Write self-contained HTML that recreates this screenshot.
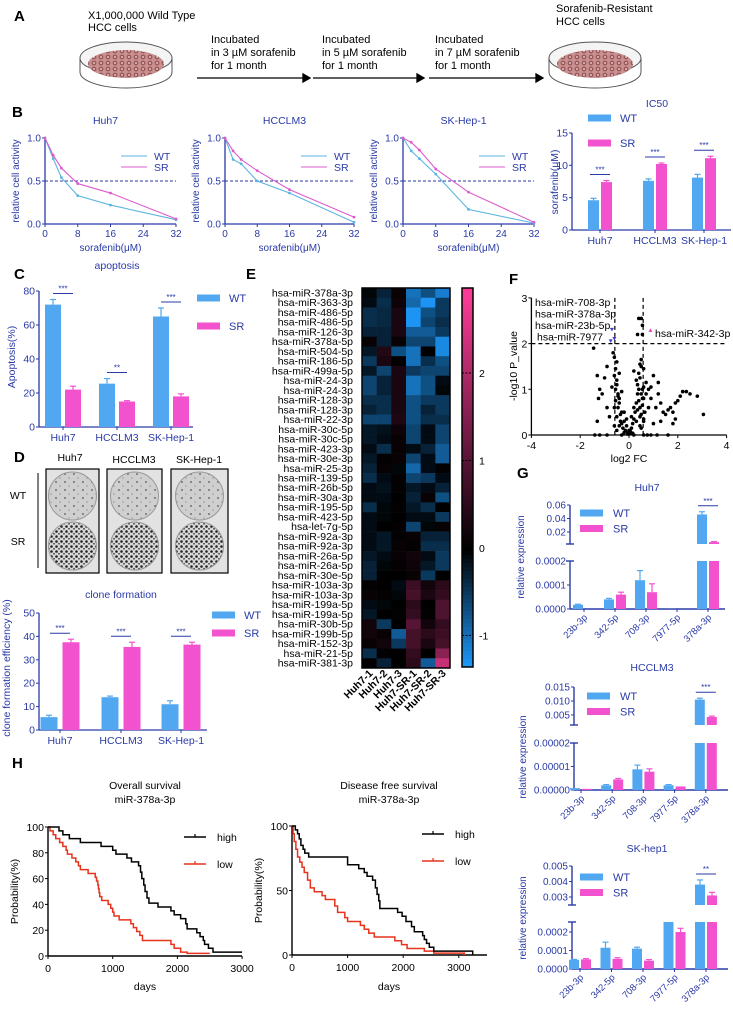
<!DOCTYPE html>
<html><head><meta charset="utf-8"><title>Sorafenib resistance figure</title>
<style>
html,body{margin:0;padding:0;background:#fff;}
svg{display:block;font-family:"Liberation Sans",Arial,sans-serif;}
</style></head>
<body>
<svg id="fig" width="733" height="1013" viewBox="0 0 733 1013" xmlns="http://www.w3.org/2000/svg">
<defs>
<pattern id="cellsPat" width="7" height="6" patternUnits="userSpaceOnUse">
<rect width="7" height="6" fill="#c89090"/><circle cx="3" cy="3" r="2.4" fill="#9a5858"/><circle cx="3" cy="3" r="1" fill="#e4c0c0"/>
</pattern>
<pattern id="wtPat" width="9" height="8" patternUnits="userSpaceOnUse">
<rect width="9" height="8" fill="#cfcfcf"/><circle cx="2" cy="2" r="0.9" fill="#555"/><circle cx="6" cy="6" r="0.6" fill="#777"/>
</pattern>
<pattern id="srPat" width="5" height="5" patternUnits="userSpaceOnUse">
<rect width="5" height="5" fill="#d8d8d8"/><circle cx="1.5" cy="1.5" r="1.3" fill="#222"/><circle cx="4" cy="3.8" r="0.9" fill="#444"/>
</pattern>
</defs>
<!-- Panel A -->
<g>
<text x="14" y="21" font-size="15" font-weight="bold">A</text>
<text x="88" y="19" font-size="11">X1,000,000 Wild Type</text>
<text x="88" y="31" font-size="11">HCC cells</text>
<g>
<path d="M80 58 L80 72 A46 16 0 0 0 172 72 L172 58" fill="#fff" stroke="#555" stroke-width="1"/>
<ellipse cx="126" cy="58" rx="46" ry="16" fill="#f4f4f4" stroke="#555"/>
<ellipse cx="126" cy="64" rx="38" ry="14" fill="url(#cellsPat)"/>
</g>
<g>
<path d="M549 58 L549 72 A46 16 0 0 0 641 72 L641 58" fill="#fff" stroke="#555" stroke-width="1"/>
<ellipse cx="595" cy="58" rx="46" ry="16" fill="#f4f4f4" stroke="#555"/>
<ellipse cx="595" cy="64" rx="38" ry="14" fill="url(#cellsPat)"/>
</g>
<text x="556" y="12" font-size="11">Sorafenib-Resistant</text>
<text x="556" y="25" font-size="11">HCC cells</text>
<g font-size="11">
<text x="211" y="43">Incubated</text><text x="211" y="56">in 3 µM sorafenib</text><text x="211" y="69">for 1 month</text>
<text x="322" y="43">Incubated</text><text x="322" y="56">in 5 µM sorafenib</text><text x="322" y="69">for 1 month</text>
<text x="435" y="43">Incubated</text><text x="435" y="56">in 7 µM sorafenib</text><text x="435" y="69">for 1 month</text>
</g>
<g stroke="#000" stroke-width="1.3">
<line x1="197" y1="78" x2="303" y2="78"/><polygon points="303,74 310,78 303,82" fill="#000"/>
<line x1="313" y1="78" x2="417" y2="78"/><polygon points="417,74 424,78 417,82" fill="#000"/>
<line x1="429" y1="78" x2="536" y2="78"/><polygon points="536,74 543,78 536,82" fill="#000"/>
</g>
</g>
<text x="12" y="117" font-size="15" font-weight="bold">B</text>
<text x="14" y="279" font-size="15" font-weight="bold">C</text>
<text x="14" y="462" font-size="15" font-weight="bold">D</text>
<text x="246" y="279" font-size="15" font-weight="bold">E</text>
<text x="509" y="284" font-size="15" font-weight="bold">F</text>
<text x="517" y="478" font-size="15" font-weight="bold">G</text>
<text x="12" y="768" font-size="15" font-weight="bold">H</text>
<!-- Panel D plates -->
<g>
<text x="70" y="461" font-size="10.5" text-anchor="middle">Huh7</text>
<text x="134" y="463" font-size="10.5" text-anchor="middle">HCCLM3</text>
<text x="199" y="463" font-size="10.5" text-anchor="middle">SK-Hep-1</text>
<text x="18" y="499" font-size="10.5" text-anchor="middle">WT</text>
<text x="18" y="545" font-size="10.5" text-anchor="middle">SR</text>
<line x1="38" y1="473" x2="38" y2="568" stroke="#000" stroke-width="1"/>
<g><rect x="46" y="469" width="53" height="104" fill="#e2e2e2" stroke="#000" stroke-width="1.2"/><circle cx="72.5" cy="496" r="24" fill="url(#wtPat)" stroke="#999"/><circle cx="72.5" cy="546" r="24" fill="url(#srPat)" stroke="#999"/></g>
<g><rect x="107" y="469" width="55" height="104" fill="#e2e2e2" stroke="#000" stroke-width="1.2"/><circle cx="134.5" cy="496" r="24" fill="url(#wtPat)" stroke="#999"/><circle cx="134.5" cy="546" r="24" fill="url(#srPat)" stroke="#999"/></g>
<g><rect x="171" y="469" width="57" height="104" fill="#e2e2e2" stroke="#000" stroke-width="1.2"/><circle cx="199.5" cy="496" r="24" fill="url(#wtPat)" stroke="#999"/><circle cx="199.5" cy="546" r="24" fill="url(#srPat)" stroke="#999"/></g>
</g>
</svg>
<script>
// ---------- DATA ----------
const doseX = [0, 2, 4, 8, 16, 32];
const huh7WT = [1.0, 0.76, 0.54, 0.33, 0.22, 0.05];
const huh7SR = [1.0, 0.80, 0.65, 0.47, 0.36, 0.06];
const lm3WT = [1.0, 0.75, 0.70, 0.50, 0.36, 0.02];
const lm3SR = [1.0, 0.85, 0.75, 0.62, 0.40, 0.08];
const skWT = [1.0, 0.85, 0.76, 0.58, 0.17, 0.01];
const skSR = [1.0, 0.95, 0.86, 0.64, 0.37, 0.02];
const doseTicks = [0, 8, 16, 24, 32];
const activityTicks = [0.0, 0.5, 1.0];

const cellLines = ['Huh7', 'HCCLM3', 'SK-Hep-1'];
const ic50WT = [4.6, 7.6, 8.1];
const ic50SR = [7.4, 10.2, 11.1];
const ic50ErrWT = [0.3, 0.3, 0.5];
const ic50ErrSR = [0.25, 0.15, 0.3];
const ic50Ticks = [0, 5, 10, 15];

const apopWT = [72, 25.5, 65];
const apopSR = [22, 15, 18];
const apopErrWT = [3, 3, 5];
const apopErrSR = [2, 0.5, 1.5];
const apopSig = ['***', '**', '***'];
const apopTicks = [0, 20, 40, 60, 80];

const cloneWT = [5.5, 14, 11];
const cloneSR = [37.5, 35.5, 36.5];
const cloneErrWT = [0.8, 0.5, 1.5];
const cloneErrSR = [1.3, 2, 1];
const cloneTicks = [0, 10, 20, 30, 40, 50];

const mirnaRows = ['hsa-miR-378a-3p','hsa-miR-363-3p','hsa-miR-486-5p','hsa-miR-486-5p','hsa-miR-126-3p','hsa-miR-378a-5p','hsa-miR-504-5p','hsa-miR-186-5p','hsa-miR-499a-5p','hsa-miR-24-3p','hsa-miR-24-3p','hsa-miR-128-3p','hsa-miR-128-3p','hsa-miR-22-3p','hsa-miR-30c-5p','hsa-miR-30c-5p','hsa-miR-423-3p','hsa-miR-30e-3p','hsa-miR-25-3p','hsa-miR-139-5p','hsa-miR-26b-5p','hsa-miR-30a-3p','hsa-miR-195-5p','hsa-miR-423-5p','hsa-let-7g-5p','hsa-miR-92a-3p','hsa-miR-92a-3p','hsa-miR-26a-5p','hsa-miR-26a-5p','hsa-miR-30e-5p','hsa-miR-103a-3p','hsa-miR-103a-3p','hsa-miR-199a-5p','hsa-miR-199a-5p','hsa-miR-30b-5p','hsa-miR-199b-5p','hsa-miR-152-3p','hsa-miR-21-5p','hsa-miR-381-3p'];
const sampleCols = ['Huh7-1','Huh7-2','Huh7-3','Huh7-SR-1','Huh7-SR-2','Huh7-SR-3'];
const heatValues = [
[-0.05,-0.3,0.1,-1.0,-0.7,-1.1],
[-0.1,-0.4,0.15,-0.9,-1.3,-0.5],
[-0.4,-0.35,0.3,-1.3,-0.7,-0.5],
[-0.4,-0.35,0.3,-1.3,-0.6,-0.4],
[-0.3,-0.3,0.3,-0.8,-0.8,-0.5],
[0.1,-0.3,0.1,-0.6,-0.6,-1.2],
[-0.2,0.4,-0.7,-1.0,0.0,-1.2],
[-0.5,0.3,0.05,-1.0,-0.4,-0.7],
[-0.2,-0.6,0.3,-0.5,-0.6,-0.6],
[-0.6,-0.3,0.3,-1.0,-0.7,-0.1],
[-0.6,-0.3,0.3,-1.0,-0.7,-0.05],
[-0.4,-0.4,0.3,-0.7,-0.5,-0.5],
[-0.3,-0.4,0.3,-0.7,-0.3,-0.5],
[-0.6,-0.6,0.35,-0.7,-0.4,-0.4],
[-0.2,-0.15,0.15,-0.6,-0.1,-0.6],
[-0.2,-0.1,0.1,-0.6,-0.1,-0.6],
[-0.1,-0.4,0.1,-0.1,-0.3,-0.8],
[-0.2,0.05,0.1,-0.6,-0.1,-0.8],
[-0.3,0.1,-0.05,-0.9,-0.1,0.05],
[-0.4,-0.1,0.05,-0.6,-0.5,-0.1],
[-0.1,-0.15,0.05,-0.2,-0.1,-0.3],
[-0.1,-0.1,0.0,-0.3,0.1,-0.7],
[-0.4,-0.05,0.05,-0.2,-0.4,0.0],
[-0.1,-0.05,0.0,-0.1,-0.1,-0.5],
[-0.1,0.0,0.05,-0.6,-0.05,0.1],
[-0.1,-0.2,0.05,0.1,-0.3,-0.3],
[-0.1,-0.2,0.1,0.05,-0.4,-0.4],
[-0.2,-0.1,0.1,0.2,-0.1,-0.5],
[-0.3,-0.05,0.05,0.15,-0.2,-0.5],
[-0.3,0.0,0.0,0.1,-0.5,0.0],
[0.05,0.0,-0.1,0.7,0.2,0.5],
[0.1,0.05,-0.05,0.8,0.3,0.6],
[-0.1,-0.05,0.0,0.5,0.0,0.9],
[-0.2,0.0,0.05,0.6,0.05,0.9],
[0.2,-0.5,0.0,1.0,0.2,0.6],
[0.2,0.1,-0.8,0.8,0.5,0.7],
[0.1,0.2,-0.5,0.8,0.3,0.8],
[-0.4,0.05,0.0,0.6,0.0,1.6],
[0.05,-0.3,0.0,0.5,-0.8,2.3]];
const colorbarTicks = [2, 1, 0, -1];

const volcX = [-0.6,-0.5,-0.45,-0.4,-0.35,-0.3,-0.25,-0.2,-0.15,-0.1,-0.05,0,0.05,0.1,0.15,0.2,0.25,0.3,0.35,0.4,0.45,0.5,0.55,0.6,
 -0.55,-0.5,-0.45,-0.4,-0.35,-0.3,-0.2,-0.1,0.1,0.2,0.3,0.35,0.4,0.45,0.5,0.55,0.6,0.65,
 -0.6,-0.55,-0.5,-0.45,-0.4,-0.3,0.3,0.4,0.45,0.5,0.55,0.6,0.7,
 -0.6,-0.55,-0.5,-0.4,0.35,0.45,0.5,0.6,0.7,0.8,
 -1.3,-1.25,-1.2,-1.1,-1.0,-0.9,-0.8,-0.7,-1.3,-0.9,
 0.8,0.9,1.0,1.1,1.2,1.3,1.4,1.5,1.6,1.7,1.8,1.9,2.0,2.1,2.2,2.35,2.5,2.8,3.05,1.0,1.3,1.8,1.9,
 -0.5,-0.6,0.5,0.45,-0.65,0.6,0.9,1.2,0.2,-1.45,0.4,0.5,0.55,0.35,0.55,
 -1.4,-1.2,-0.9,-0.3,0.2,0.6,0.75,0.9,1.15,1.6,-0.05,0.05,-0.2,0.15];
const volcY = [0.2,0.4,0.6,0.8,0.3,0.5,0.15,0.3,0.1,0.2,0.05,0.1,0.08,0.15,0.25,0.35,0.5,0.7,0.9,1.0,0.6,0.45,0.8,0.3,
 1.0,1.2,0.9,0.7,0.45,0.25,0.5,0.35,0.4,0.6,0.3,1.1,0.75,1.25,0.9,0.65,1.05,0.5,
 1.3,1.45,1.1,0.85,1.35,0.95,1.2,1.35,0.2,0.15,1.0,0.8,1.15,
 0.6,0.75,0.1,0.2,0.55,0.4,1.5,0.35,0.9,0.6,
 1.3,0.8,1.0,0.9,1.25,0.6,0.4,1.05,0.3,1.5,
 1.0,0.8,1.3,0.6,0.9,0.7,0.5,0.45,0.55,0.6,0.5,0.7,0.75,0.85,0.95,0.95,0.9,0.85,0.45,0.25,0.3,0.25,0.35,
 1.6,1.7,1.65,1.55,1.8,1.45,1.05,1.15,1.4,1.9,2.55,2.55,2.4,2.2,2.2,
 0,0,0,0,0,0,0,0,0,0,0.02,0.03,0.05,0.04];
const volcTicksX = [-4, -2, 0, 2, 4];
const volcTicksY = [0, 1, 2, 3];
const volcLabels = ['hsa-miR-708-3p','hsa-miR-378a-3p','hsa-miR-23b-5p','hsa-miR-7977'];

const geneCats = ['23b-3p', '342-5p', '708-3p', '7977-5p', '378a-3p'];
const huh7ExprWT = [0.000018, 0.00004, 0.00012, 0.0000005, 0.046];
const huh7ExprSR = [0.0, 0.00006, 0.00007, 0.0, 0.005];
const huh7ErrWT = [0.000002, 0.000004, 0.00004, 0, 0.004];
const huh7ErrSR = [0, 0.00001, 0.000035, 0, 0.0008];
const lm3ExprWT = [0.0000008, 0.000002, 0.0000088, 0.000002, 0.0105];
const lm3ExprSR = [0.0000005, 0.0000045, 0.0000078, 0.0000015, 0.0043];
const lm3ErrWT = [0, 0.0000003, 0.0000018, 0.0000003, 0.0005];
const lm3ErrSR = [0, 0.0000004, 0.0000012, 0, 0.0003];
const skExprWT = [0.00005, 0.000115, 0.00011, 0.0009, 0.0038];
const skExprSR = [0.000052, 0.000055, 0.000045, 0.0002, 0.0031];
const skErrWT = [0.000002, 0.00003, 0.000008, 0, 0.0003];
const skErrSR = [0.000004, 0.000006, 0.000006, 0.00002, 0.0002];

const osHighDays = [0,170,230,330,500,820,1000,1050,1220,1290,1400,1430,1450,1480,1500,1530,1560,1700,1900,1950,2050,2130,2150,2300,2350,2400,2420,2480,2550];
const osHighPct = [100,97,94,91,88,85,82,79,76,73,70,65,60,55,50,45,41,38,35,32,29,25,21,18,15,12,9,6,3];
const osLowDays = [0,30,80,120,180,230,280,300,370,430,470,500,620,730,750,770,780,790,800,830,930,970,1000,1020,1100,1280,1320,1370,1420,1460,1900,1950,2050,2150];
const osLowPct = [100,97,94,91,88,85,82,79,76,73,70,67,64,61,58,55,52,49,46,43,40,37,34,31,28,25,22,19,16,12,9,6,3,2];
const dfsHighDays = [0,60,100,130,160,200,230,300,1000,1200,1300,1350,1450,1500,1530,1560,1580,1900,1980,2050,2150,2200,2350,2380,2420,2470,2550,3250];
const dfsHighPct = [100,97,94,90,85,82,79,76,70,67,64,61,58,52,47,42,36,33,30,26,22,18,15,12,9,6,3,0];
const dfsLowDays = [0,20,40,70,100,140,180,220,280,330,400,540,600,770,820,950,1000,1230,1300,1380,1480,1850,1970,2070,2380,2550,3100];
const dfsLowPct = [100,94,88,82,76,72,68,64,58,52,49,46,43,38,33,29,26,23,20,17,14,11,8,5,3,1.5,0];
const survTicksOS = [0, 1000, 2000, 3000];
const survTicksDFS = [0, 1000, 2000, 3000];

// ---------- DRAW HELPERS ----------
const NS = 'http://www.w3.org/2000/svg';
const svg = document.getElementById('fig');
const BLUE = '#2a3aa6', WTC = '#51a8f0', SRC = '#f352cf';
function mk(tag, attrs, name, parent) {
  const el = document.createElementNS(NS, tag);
  for (const k in attrs) el.setAttribute(k, attrs[k]);
  
  
  (parent || svg).appendChild(el);
  return el;
}
function T(x, y, s, size, fill, anchor, name, extra, parent) {
  const a = Object.assign({x: x, y: y, 'font-size': size, fill: fill, 'text-anchor': anchor || 'start'}, extra || {});
  const t = mk('text', a, name, parent);
  t.textContent = s;
  return t;
}
function L(x1, y1, x2, y2, stroke, w, name, extra, parent) {
  return mk('line', Object.assign({x1: x1, y1: y1, x2: x2, y2: y2, stroke: stroke, 'stroke-width': w}, extra || {}), name, parent);
}
function R(x, y, w, h, fill, name, parent) {
  return mk('rect', {x: x, y: y, width: Math.max(0, w), height: Math.max(0, h), fill: fill}, name, parent);
}

// ---------- B: dose response ----------
function doseChart(ax, xEnd, title, wt, sr, key) {
  const g = mk('g', {}, 'dose-chart-' + key);
  const y0 = 224, y1 = 138;
  const sx = d => ax + d / 32 * (xEnd - ax);
  const sy = v => y0 - v * (y0 - y1);
  T((ax + xEnd) / 2 - 5, 124, title, 10.5, BLUE, 'middle', 'dose-title-' + key, {}, g);
  L(ax, y1, ax, y0, BLUE, 1.3, 'dose-y-axis', {}, g);
  L(ax, y0, xEnd, y0, BLUE, 1.3, 'dose-x-axis', {}, g);
  activityTicks.forEach(v => {
    L(ax - 3, sy(v), ax, sy(v), BLUE, 1, 'dose-y-tick', {}, g);
    T(ax - 4, sy(v) + 3.5, v.toFixed(1), 10, BLUE, 'end', 'dose-y-tick-label', {}, g);
  });
  doseTicks.forEach(v => {
    L(sx(v), y0, sx(v), y0 + 3, BLUE, 1, 'dose-x-tick', {}, g);
    T(sx(v), y0 + 13, String(v), 10, BLUE, 'middle', 'dose-x-tick-label', {}, g);
  });
  T((ax + xEnd) / 2, 251, 'sorafenib(μM)', 10, BLUE, 'middle', 'dose-x-title', {}, g);
  T(0, 0, 'relative cell activity', 10, BLUE, 'middle', 'dose-y-title', {transform: 'translate(' + (ax - 26) + ',' + ((y0 + y1) / 2) + ') rotate(-90)'}, g);
  L(ax, sy(0.5), xEnd, sy(0.5), '#2a3aa6', 1, 'half-activity-line', {'stroke-dasharray': '3,2'}, g);
  [[wt, '#5cb6e0', 'wt'], [sr, '#dc5ccc', 'sr']].forEach(s => {
    mk('polyline', {points: doseX.map((d, i) => sx(d) + ',' + sy(s[0][i])).join(' '), fill: 'none', stroke: s[1], 'stroke-width': 1.1}, 'dose-line-' + s[2], g);
    doseX.forEach((d, i) => {
      mk('circle', {cx: sx(d), cy: sy(s[0][i]), r: 1.4, fill: s[1]}, 'dose-point-' + s[2], g);
    });
  });
  L(ax + 76, 156, ax + 102, 156, '#5cb6e0', 1.1, 'dose-legend-wt-line', {}, g);
  T(ax + 109, 160, 'WT', 10.5, BLUE, 'start', 'dose-legend-wt', {}, g);
  L(ax + 76, 167, ax + 102, 167, '#dc5ccc', 1.1, 'dose-legend-sr-line', {}, g);
  T(ax + 109, 171, 'SR', 10.5, BLUE, 'start', 'dose-legend-sr', {}, g);
}
doseChart(45, 176, 'Huh7', huh7WT, huh7SR, 'huh7');
doseChart(225, 354, 'HCCLM3', lm3WT, lm3SR, 'hcclm3');
doseChart(403, 534, 'SK-Hep-1', skWT, skSR, 'skhep1');

// ---------- generic grouped bars ----------
function groupBars(cfg) {
  const g = mk('g', {}, cfg.name);
  const sy = v => cfg.y0 - v * cfg.k;
  L(cfg.ax, sy(cfg.ticks[cfg.ticks.length - 1]), cfg.ax, cfg.y0, BLUE, 1.3, 'bar-y-axis', {}, g);
  L(cfg.ax, cfg.y0, cfg.xEnd, cfg.y0, BLUE, 1.3, 'bar-x-axis', {}, g);
  cfg.ticks.forEach(v => {
    L(cfg.ax - 3, sy(v), cfg.ax, sy(v), BLUE, 1, 'bar-y-tick', {}, g);
    T(cfg.ax - 4, sy(v) + 3.5, String(v), 10.5, BLUE, 'end', 'bar-y-tick-label', {}, g);
  });
  cellLines.forEach((c, i) => {
    const cx = cfg.centers[i];
    L(cx, cfg.y0, cx, cfg.y0 + 3, BLUE, 1, 'bar-x-tick', {}, g);
    T(cx, cfg.y0 + 14, c, 10.5, BLUE, 'middle', 'bar-x-label', {}, g);
    [[cfg.wt, cfg.ewt, WTC, -1, 'wt'], [cfg.sr, cfg.esr, SRC, 1, 'sr']].forEach(s => {
      const x = s[3] < 0 ? cx - cfg.gap / 2 - cfg.bw : cx + cfg.gap / 2;
      const v = s[0][i];
      R(x, sy(v), cfg.bw, cfg.y0 - sy(v), s[2], 'bar-' + s[4] + '-' + i, g);
      L(x + cfg.bw / 2, sy(v), x + cfg.bw / 2, sy(v + s[1][i]), s[2], 1.2, 'error-bar', {}, g);
      L(x + cfg.bw / 2 - 3, sy(v + s[1][i]), x + cfg.bw / 2 + 3, sy(v + s[1][i]), s[2], 1.2, 'error-cap', {}, g);
    });
    if (cfg.sig) {
      const top = Math.max(cfg.wt[i] + cfg.ewt[i], cfg.sr[i] + cfg.esr[i]);
      const yy = sy(top) - 6;
      L(cx - 10, yy, cx + 10, yy, BLUE, 1, 'significance-line', {}, g);
      T(cx, yy - 2, cfg.sig[i], 8, BLUE, 'middle', 'significance-stars', {}, g);
    }
  });
  R(cfg.lx, cfg.ly1 - 3.5, 23, 7, WTC, 'legend-wt-swatch', g);
  T(cfg.lx + 32, cfg.ly1 + 4, 'WT', 11, BLUE, 'start', 'legend-wt', {}, g);
  R(cfg.lx, cfg.ly2 - 3.5, 23, 7, SRC, 'legend-sr-swatch', g);
  T(cfg.lx + 32, cfg.ly2 + 4, 'SR', 11, BLUE, 'start', 'legend-sr', {}, g);
  T(cfg.titleX, cfg.titleY, cfg.title, 10.5, BLUE, 'middle', 'bar-title', {}, g);
  T(0, 0, cfg.ytitle, 10.5, BLUE, 'middle', 'bar-y-title', {transform: 'translate(' + cfg.ytx + ',' + cfg.yty + ') rotate(-90)'}, g);
}
groupBars({name: 'ic50-chart', ax: 572, y0: 230, k: 6.47, xEnd: 731, ticks: ic50Ticks, centers: [600, 655, 704], bw: 11, gap: 2,
  wt: ic50WT, sr: ic50SR, ewt: ic50ErrWT, esr: ic50ErrSR, sig: ['***', '***', '***'], lx: 588, ly1: 118, ly2: 143,
  title: 'IC50', titleX: 657, titleY: 107, ytitle: 'sorafenib(μM)', ytx: 558, yty: 182});
groupBars({name: 'apoptosis-chart', ax: 39, y0: 427, k: 1.7, xEnd: 193, ticks: apopTicks, centers: [63, 117, 171], bw: 16, gap: 4,
  wt: apopWT, sr: apopSR, ewt: apopErrWT, esr: apopErrSR, sig: apopSig, lx: 197, ly1: 298, ly2: 326,
  title: 'apoptosis', titleX: 117, titleY: 269, ytitle: 'Apoptosis(%)', ytx: 15, yty: 357});
groupBars({name: 'clone-chart', ax: 39, y0: 730, k: 2.34, xEnd: 207, ticks: cloneTicks, centers: [60, 121, 181], bw: 17, gap: 5,
  wt: cloneWT, sr: cloneSR, ewt: cloneErrWT, esr: cloneErrSR, sig: ['***', '***', '***'], lx: 212, ly1: 615, ly2: 633,
  title: 'clone formation', titleX: 121, titleY: 598, ytitle: 'clone formation efficiency (%)', ytx: 10, yty: 668});

// ---------- E: heatmap ----------
(function () {
  const g = mk('g', {}, 'heatmap');
  const hx = 362, hy = 288, cw = 88 / 6, ch = 380 / 39;
  function col(v) {
    if (v < 0) { const t = Math.min(1, -v / 1.36); return 'rgb(' + Math.round(30 * t) + ',' + Math.round(155 * t) + ',' + Math.round(255 * t) + ')'; }
    const t = Math.min(1, v / 2.9); return 'rgb(' + Math.round(250 * t) + ',' + Math.round(60 * t) + ',' + Math.round(150 * t) + ')';
  }
  heatValues.forEach((row, r) => {
    T(353, hy + r * ch + ch / 2 + 3.5, mirnaRows[r], 10.5, '#000', 'end', 'heatmap-row-label', {}, g);
    row.forEach((v, c) => {
      mk('rect', {x: hx + c * cw, y: hy + r * ch, width: cw + 0.3, height: ch + 0.3, fill: col(v)}, 'heatmap-cell', g);
    });
  });
  mk('rect', {x: hx, y: hy, width: 88, height: 380, fill: 'none', stroke: '#000', 'stroke-width': 1.5}, 'heatmap-border', g);
  sampleCols.forEach((s, c) => {
    T(0, 0, s, 10.5, '#000', 'end', 'heatmap-col-label', {'font-weight': 'bold', transform: 'translate(' + (hx + c * cw + cw / 2 + 4) + ',' + (hy + 386) + ') rotate(-45)'}, g);
  });
  const cbx = 462, cbTop = 288, cbBot = 667;
  const cby = v => 548 - v * 87.5;
  for (let i = 0; i < 95; i++) {
    const y = cbTop + i * (cbBot - cbTop) / 95;
    const v = (548 - y) / 87.5;
    mk('rect', {x: cbx, y: y, width: 11, height: (cbBot - cbTop) / 95 + 0.5, fill: col(v)}, 'colorbar-step', g);
  }
  mk('rect', {x: cbx, y: cbTop, width: 11, height: cbBot - cbTop, fill: 'none', stroke: '#000', 'stroke-width': 1.5}, 'colorbar-border', g);
  colorbarTicks.forEach(v => {
    L(cbx, cby(v), cbx + 11, cby(v), '#000', 1, 'colorbar-tick', {'stroke-dasharray': '2,1.5'}, g);
    T(cbx + 17, cby(v) + 4, String(v), 10.5, '#000', 'start', 'colorbar-label', {}, g);
  });
})();

// ---------- F: volcano ----------
(function () {
  const g = mk('g', {}, 'volcano-plot');
  const sx = v => 629 + v * 24.4, sy = v => 435 - v * 45.7;
  L(sx(-4), sy(0), sx(-4), sy(3), '#000', 1.3, 'volcano-y-axis', {}, g);
  L(sx(-4), sy(0), sx(4), sy(0), '#000', 1.3, 'volcano-x-axis', {}, g);
  volcTicksX.forEach(v => {
    L(sx(v), sy(0), sx(v), sy(0) + 3, '#000', 1, 'volcano-x-tick', {}, g);
    T(sx(v), sy(0) + 14, String(v), 10.5, '#000', 'middle', 'volcano-x-tick-label', {}, g);
  });
  volcTicksY.forEach(v => {
    L(sx(-4) - 3, sy(v), sx(-4), sy(v), '#000', 1, 'volcano-y-tick', {}, g);
    T(sx(-4) - 4, sy(v) + 4, String(v), 10.5, '#000', 'end', 'volcano-y-tick-label', {}, g);
  });
  T(629, 462, 'log2 FC', 10.5, '#000', 'middle', 'volcano-x-title', {}, g);
  T(0, 0, '-log10 P_value', 10.5, '#000', 'middle', 'volcano-y-title', {transform: 'translate(517,366) rotate(-90)'}, g);
  volcX.forEach((x, i) => {
    mk('circle', {cx: sx(x), cy: sy(volcY[i]), r: 1.8, fill: '#000'}, 'volcano-point', g);
  });
  L(sx(-0.58), sy(3), sx(-0.58), sy(0), '#000', 1.2, 'fc-threshold-left', {'stroke-dasharray': '4,3'}, g);
  L(sx(0.58), sy(3), sx(0.58), sy(0), '#000', 1.2, 'fc-threshold-right', {'stroke-dasharray': '4,3'}, g);
  L(sx(-4), sy(2), sx(4), sy(2), '#000', 1.2, 'p-threshold', {'stroke-dasharray': '4,3'}, g);
  volcLabels.forEach((s, i) => {
    T(535 + (i === 3 ? 2 : 0), 306 + i * 11.5, s, 10.5, '#000', 'start', 'volcano-label', {}, g);
  });
  [[-0.7, 2.3], [-0.75, 2.05], [-0.6, 2.1]].forEach(p => {
    mk('path', {d: 'M' + (sx(p[0]) - 2) + ' ' + (sy(p[1]) - 2) + ' l4 0 l-2 3.5 z', fill: '#3a3ad0'}, 'volcano-down-marker', g);
  });
  mk('path', {d: 'M' + (sx(0.88) - 2) + ' ' + (sy(2.3) + 2) + ' l4 0 l-2 -3.5 z', fill: '#e040c0'}, 'volcano-up-marker', g);
  T(655, 337, 'hsa-miR-342-3p', 10.5, '#000', 'start', 'volcano-label-342', {}, g);
})();

// ---------- G: broken-axis bars ----------
function brokenChart(cfg) {
  const g = mk('g', {}, cfg.name);
  const sxC = i => cfg.c0 + i * cfg.dc;
  const yt = v => cfg.tBase - v * cfg.tk;
  const yb = v => cfg.bBase - v * cfg.bk;
  T(cfg.titleX, cfg.titleY, cfg.title, 10.5, BLUE, 'middle', 'expr-title', {}, g);
  L(cfg.ax, cfg.tTop, cfg.ax, cfg.tBot, BLUE, 1.4, 'expr-top-axis', {}, g);
  L(cfg.ax - 4, cfg.tBot, cfg.ax + 4, cfg.tBot, BLUE, 1.4, 'expr-top-break', {}, g);
  L(cfg.ax, cfg.bTop, cfg.ax, cfg.bBase, BLUE, 1.4, 'expr-bottom-axis', {}, g);
  L(cfg.ax - 4, cfg.bTop, cfg.ax + 4, cfg.bTop, BLUE, 1.4, 'expr-bottom-break', {}, g);
  L(cfg.ax, cfg.bBase, cfg.xEnd, cfg.bBase, BLUE, 1.4, 'expr-x-axis', {}, g);
  cfg.tTicks.forEach(v => {
    L(cfg.ax - 3, yt(v), cfg.ax, yt(v), BLUE, 1, 'expr-top-tick', {}, g);
    T(cfg.ax - 4, yt(v) + 3.5, cfg.tFmt(v), 10, BLUE, 'end', 'expr-top-tick-label', {}, g);
  });
  cfg.bTicks.forEach(v => {
    L(cfg.ax - 3, yb(v), cfg.ax, yb(v), BLUE, 1, 'expr-bottom-tick', {}, g);
    T(cfg.ax - 4, yb(v) + 3.5, cfg.bFmt(v), 10, BLUE, 'end', 'expr-bottom-tick-label', {}, g);
  });
  geneCats.forEach((c, i) => {
    const cx = sxC(i);
    L(cx, cfg.bBase, cx, cfg.bBase + 3, BLUE, 1, 'expr-x-tick', {}, g);
    T(0, 0, c, 9.5, BLUE, 'end', 'expr-x-label', {transform: 'translate(' + (cx + 4) + ',' + (cfg.bBase + 9) + ') rotate(-45)'}, g);
    [[cfg.wt, cfg.ewt, WTC, cx - 11, 'wt'], [cfg.sr, cfg.esr, SRC, cx + 1, 'sr']].forEach(s => {
      const v = s[0][i], e = s[1][i];
      const bTopY = Math.max(cfg.bTop, yb(v));
      R(s[3], bTopY, 10, cfg.bBase - bTopY, s[2], 'expr-bar-' + s[4], g);
      if (yb(v) > cfg.bTop && e > 0) {
        const ye = Math.max(cfg.bTop, yb(v + e));
        L(s[3] + 5, yb(v), s[3] + 5, ye, s[2], 1.2, 'expr-error', {}, g);
        L(s[3] + 2, ye, s[3] + 8, ye, s[2], 1.2, 'expr-error-cap', {}, g);
      }
      if (yt(v) < cfg.tBot - 0.5) {
        R(s[3], yt(v), 10, cfg.tBot - yt(v), s[2], 'expr-bar-top-' + s[4], g);
        if (e > 0) {
          L(s[3] + 5, yt(v), s[3] + 5, yt(v + e), s[2], 1.2, 'expr-error-top', {}, g);
          L(s[3] + 2, yt(v + e), s[3] + 8, yt(v + e), s[2], 1.2, 'expr-error-top-cap', {}, g);
        }
      }
    });
  });
  const last = geneCats.length - 1;
  const sy = yt(cfg.wt[last] + cfg.ewt[last]) - 6;
  L(sxC(last) - 10, sy, sxC(last) + 10, sy, BLUE, 1, 'expr-significance-line', {}, g);
  T(sxC(last), sy - 2, cfg.sig, 8, BLUE, 'middle', 'expr-significance-stars', {}, g);
  R(cfg.lx, cfg.ly - 3.5, 23, 7, WTC, 'expr-legend-wt-swatch', g);
  T(cfg.lx + 33, cfg.ly + 4, 'WT', 11, BLUE, 'start', 'expr-legend-wt', {}, g);
  R(cfg.lx, cfg.ly + 12, 23, 7, SRC, 'expr-legend-sr-swatch', g);
  T(cfg.lx + 33, cfg.ly + 19.5, 'SR', 11, BLUE, 'start', 'expr-legend-sr', {}, g);
  T(0, 0, 'relative expression', 10, BLUE, 'middle', 'expr-y-title', {transform: 'translate(' + cfg.ytx + ',' + cfg.yty + ') rotate(-90)'}, g);
}
brokenChart({name: 'expr-huh7', title: 'Huh7', titleX: 647, titleY: 491, ax: 570, xEnd: 725, c0: 584, dc: 31,
  tBase: 545.5, tk: 675, tTop: 505, tBot: 544, tTicks: [0.02, 0.04, 0.06], tFmt: v => v.toFixed(2),
  bBase: 609, bk: 240000, bTop: 561, bTicks: [0, 0.0001, 0.0002], bFmt: v => v.toFixed(4),
  wt: huh7ExprWT, sr: huh7ExprSR, ewt: huh7ErrWT, esr: huh7ErrSR, sig: '***', lx: 580, ly: 513, ytx: 524, yty: 557});
brokenChart({name: 'expr-hcclm3', title: 'HCCLM3', titleX: 652, titleY: 671, ax: 574, xEnd: 728, c0: 581, dc: 31.2,
  tBase: 729, tk: 2800, tTop: 687, tBot: 725, tTicks: [0.005, 0.010, 0.015], tFmt: v => v.toFixed(3),
  bBase: 790, bk: 2350000, bTop: 743, bTicks: [0, 0.00001, 0.00002], bFmt: v => v.toFixed(5),
  wt: lm3ExprWT, sr: lm3ExprSR, ewt: lm3ErrWT, esr: lm3ErrSR, sig: '***', lx: 587, ly: 696, ytx: 526, yty: 757});
brokenChart({name: 'expr-skhep1', title: 'SK-hep1', titleX: 647, titleY: 852, ax: 572, xEnd: 728, c0: 580, dc: 31.5,
  tBase: 943.5, tk: 15500, tTop: 866, tBot: 905, tTicks: [0.003, 0.004, 0.005], tFmt: v => v.toFixed(3),
  bBase: 969, bk: 185000, bTop: 922, bTicks: [0, 0.0001, 0.0002], bFmt: v => v.toFixed(4),
  wt: skExprWT, sr: skExprSR, ewt: skErrWT, esr: skErrSR, sig: '**', lx: 580, ly: 877, ytx: 526, yty: 918});

// ---------- H: survival ----------
function survChart(cfg) {
  const g = mk('g', {}, cfg.name);
  const sx = d => cfg.ax + d / 1000 * cfg.kx;
  const sy = p => cfg.y0 - p * 1.29;
  T(cfg.cx, 789, cfg.title, 10.5, '#000', 'middle', 'survival-title', {}, g);
  T(cfg.cx, 803, 'miR-378a-3p', 10.5, '#000', 'middle', 'survival-subtitle', {}, g);
  L(cfg.ax, sy(100), cfg.ax, sy(0), '#000', 1.4, 'survival-y-axis', {}, g);
  L(cfg.ax, sy(0), cfg.xEnd, sy(0), '#000', 1.4, 'survival-x-axis', {}, g);
  cfg.yTicks.forEach(v => {
    L(cfg.ax - 3, sy(v), cfg.ax, sy(v), '#000', 1, 'survival-y-tick', {}, g);
    T(cfg.ax - 4, sy(v) + 4, String(v), 10.5, '#000', 'end', 'survival-y-tick-label', {}, g);
  });
  cfg.xTicks.forEach(v => {
    L(sx(v), sy(0), sx(v), sy(0) + 3, '#000', 1, 'survival-x-tick', {}, g);
    T(sx(v), sy(0) + 16, String(v), 10.5, '#000', 'middle', 'survival-x-tick-label', {}, g);
  });
  T(cfg.cx, 990, 'days', 10.5, '#000', 'middle', 'survival-x-title', {}, g);
  T(0, 0, 'Probability(%)', 10.5, '#000', 'middle', 'survival-y-title', {transform: 'translate(' + (cfg.ax - 30) + ',' + ((sy(0) + sy(100)) / 2) + ') rotate(-90)'}, g);
  [[cfg.lowD, cfg.lowP, '#e8321c', 'low'], [cfg.highD, cfg.highP, '#000', 'high']].forEach(s => {
    let d = 'M' + sx(s[0][0]) + ' ' + sy(s[1][0]);
    for (let i = 1; i < s[0].length; i++) d += ' H' + sx(s[0][i]) + ' V' + sy(s[1][i]);
    d += ' H' + sx(s[3] === 'high' ? cfg.highEnd : cfg.lowEnd);
    mk('path', {d: d, fill: 'none', stroke: s[2], 'stroke-width': 1.5}, 'survival-curve-' + s[3], g);
  });
  L(cfg.lx, cfg.ly, cfg.lx + 22, cfg.ly, '#000', 1.5, 'survival-legend-high-line', {}, g);
  L(cfg.lx + 11, cfg.ly - 3, cfg.lx + 11, cfg.ly, '#000', 1.2, 'survival-legend-high-tick', {}, g);
  T(cfg.lx + 33, cfg.ly + 4, 'high', 10.5, '#000', 'start', 'survival-legend-high', {}, g);
  L(cfg.lx, cfg.ly + 27, cfg.lx + 22, cfg.ly + 27, '#e8321c', 1.5, 'survival-legend-low-line', {}, g);
  L(cfg.lx + 11, cfg.ly + 24, cfg.lx + 11, cfg.ly + 27, '#e8321c', 1.2, 'survival-legend-low-tick', {}, g);
  T(cfg.lx + 33, cfg.ly + 31, 'low', 10.5, '#000', 'start', 'survival-legend-low', {}, g);
}
survChart({name: 'overall-survival', title: 'Overall survival', cx: 145, ax: 48, kx: 64.7, y0: 956, xEnd: 242,
  yTicks: [0, 20, 40, 60, 80, 100], xTicks: survTicksOS, highD: osHighDays, highP: osHighPct, lowD: osLowDays, lowP: osLowPct,
  highEnd: 3000, lowEnd: 2500, lx: 184, ly: 837});
survChart({name: 'disease-free-survival', title: 'Disease free survival', cx: 389, ax: 292, kx: 55.6, y0: 955, xEnd: 487,
  yTicks: [0, 50, 100], xTicks: survTicksDFS, highD: dfsHighDays, highP: dfsHighPct, lowD: dfsLowDays, lowP: dfsLowPct,
  highEnd: 3250, lowEnd: 3100, lx: 422, ly: 834});
</script>
</body></html>
